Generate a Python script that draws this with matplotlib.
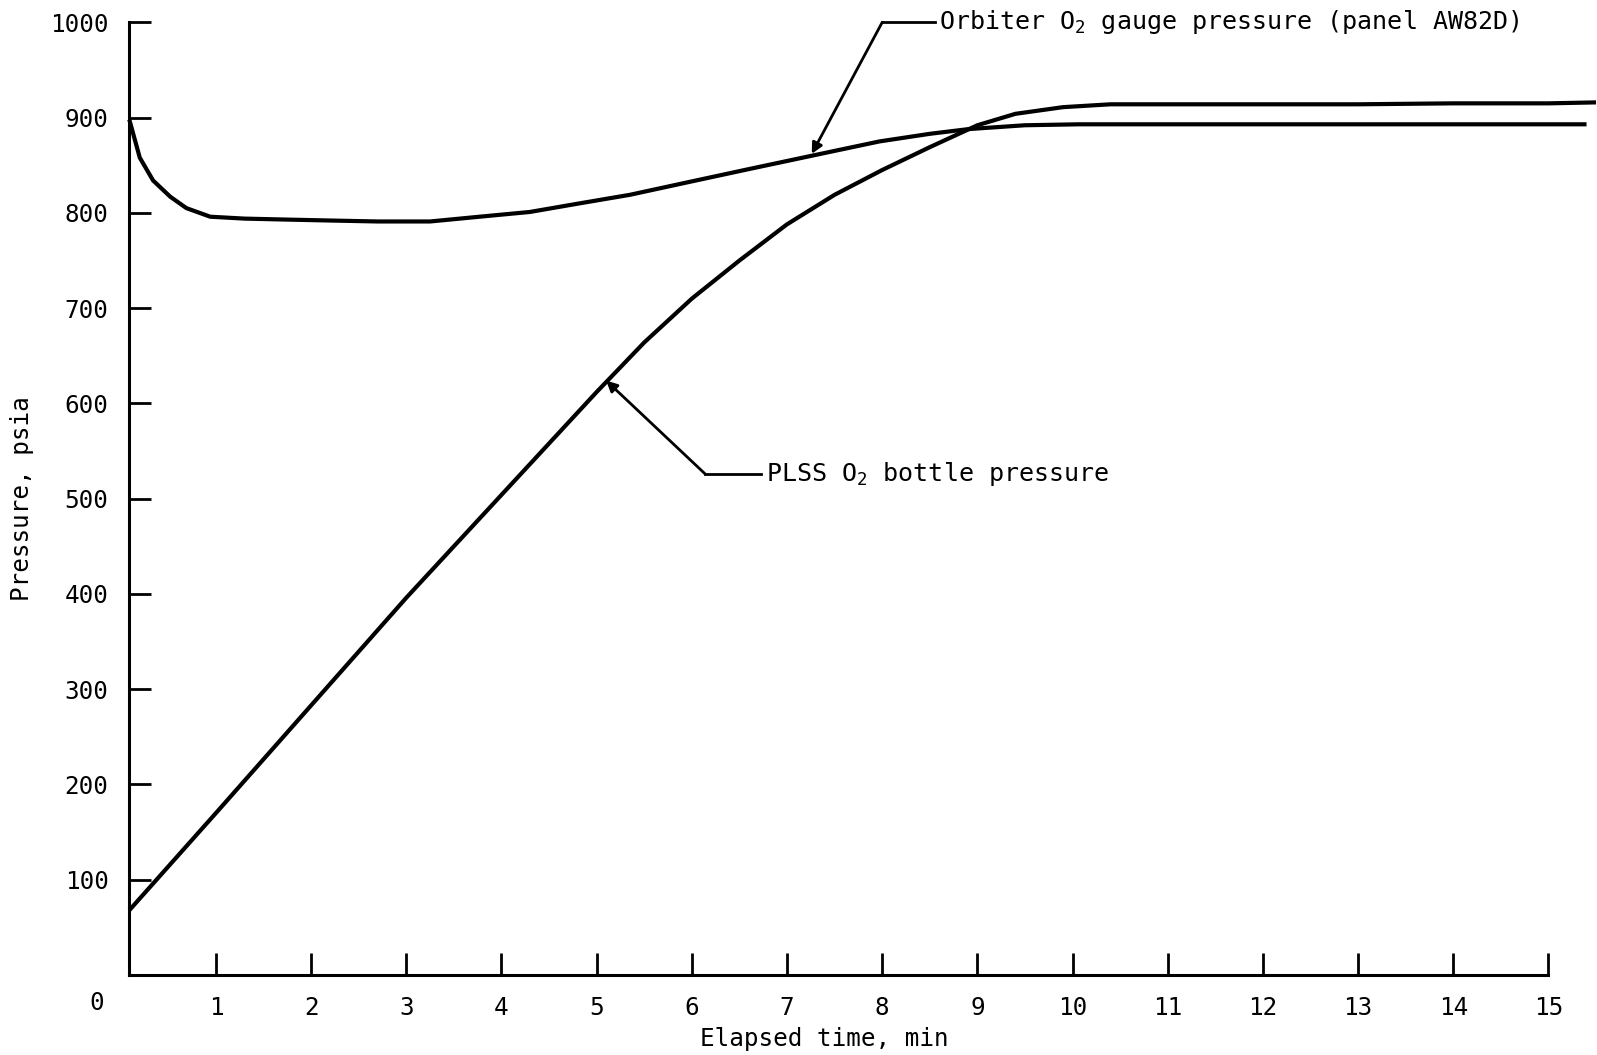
import matplotlib
matplotlib.use('Agg')
import matplotlib.pyplot as plt

plt.rcParams['font.family'] = ['DejaVu Sans Mono']
plt.rcParams['mathtext.fontset'] = 'custom'
plt.rcParams['mathtext.rm'] = 'DejaVu Sans Mono'
plt.rcParams['mathtext.it'] = 'DejaVu Sans Mono'
plt.rcParams['mathtext.default'] = 'rm'

# PLSS O2 bottle pressure (psia) vs elapsed time (min)
bottle_t = [0.09, 1, 2, 3, 4, 5, 5.5, 6, 6.5, 7, 7.5, 8, 8.5, 9, 9.4, 9.9,
            10.4, 11, 12, 13, 14, 15, 15.5]
bottle_p = [68, 170, 283, 396, 504, 612, 664, 710, 750, 788, 819, 845, 869, 892,
            904, 911, 914, 914, 914, 914, 915, 915, 916]

# Orbiter O2 gauge pressure (psia) vs elapsed time (min)
gauge_t = [0.09, 0.2, 0.34, 0.52, 0.69, 0.94, 1.3, 1.74, 2.2, 2.7, 3.25, 3.77,
           4.3, 4.82, 5.35, 5.95, 6.6, 7.26, 7.97, 8.5, 8.91, 9.5, 10.07, 11.1,
           12, 13, 14, 15, 15.4]
gauge_p = [898, 858, 834, 817, 805, 796, 794, 793, 792, 791, 791, 796, 801, 810,
           819, 832, 846, 860, 875, 883, 888, 892, 893, 893, 893, 893, 893, 893, 893]

x_ticks = list(range(1, 16))
y_ticks = list(range(100, 1001, 100))

# annotation anchors: (arrow tip, elbow, text start)
gauge_tip, gauge_elbow, gauge_text_x = (7.26, 862), (8.0, 1000), 8.55
bottle_tip, bottle_elbow, bottle_text_x = (5.10, 624), (6.14, 526), 6.73

fig = plt.figure(figsize=(15.97, 10.55), dpi=100)
ax = fig.add_axes([0.0756, 0.0758, 0.894, 0.903])

lw = 3.0
for t, p in [(bottle_t, bottle_p), (gauge_t, gauge_p)]:
    ax.plot(t, p, color='black', lw=lw, clip_on=False,
            solid_capstyle='butt', solid_joinstyle='round')

ax.set_xlim(0, 15)
ax.set_ylim(0, 1000)

for s in ['top', 'right']:
    ax.spines[s].set_visible(False)
ax.spines['left'].set_position(('data', 0.09))
ax.spines['left'].set_linewidth(2.2)
ax.spines['bottom'].set_linewidth(2.2)
ax.spines['bottom'].set_bounds(0.09, 15)

ax.set_xticks(x_ticks)
ax.set_yticks(y_ticks)
ax.tick_params(axis='both', direction='in', length=16, width=2, labelsize=17.5)
ax.tick_params(axis='y', pad=15)
ax.tick_params(axis='x', pad=15)

# shared origin label
ax.annotate('0', xy=(-0.25, 0), xytext=(0, -20), textcoords='offset points',
            ha='center', va='center', fontsize=17.5, annotation_clip=False)

ax.set_ylabel('Pressure, psia', fontsize=17.5, va='center')
ax.yaxis.set_label_coords(-0.069, 0.5)
ax.set_xlabel('Elapsed time, min', fontsize=17.5, va='center')
ax.xaxis.set_label_coords(0.493, -0.067)

arrow = dict(arrowstyle='-|>', lw=2, color='black', mutation_scale=16,
             shrinkA=0, shrinkB=0)
for tip, elbow, tx, label in [
        (gauge_tip, gauge_elbow, gauge_text_x, 'Orbiter O$_2$ gauge pressure (panel AW82D)'),
        (bottle_tip, bottle_elbow, bottle_text_x, 'PLSS O$_2$ bottle pressure')]:
    ax.annotate('', xy=tip, xytext=elbow, arrowprops=arrow, annotation_clip=False)
    ax.plot([elbow[0], tx], [elbow[1], elbow[1]], color='black', lw=2, clip_on=False)
    ax.text(tx + 0.05, elbow[1], label, fontsize=18, ha='left', va='center')

fig.savefig('out.png', dpi=100)
